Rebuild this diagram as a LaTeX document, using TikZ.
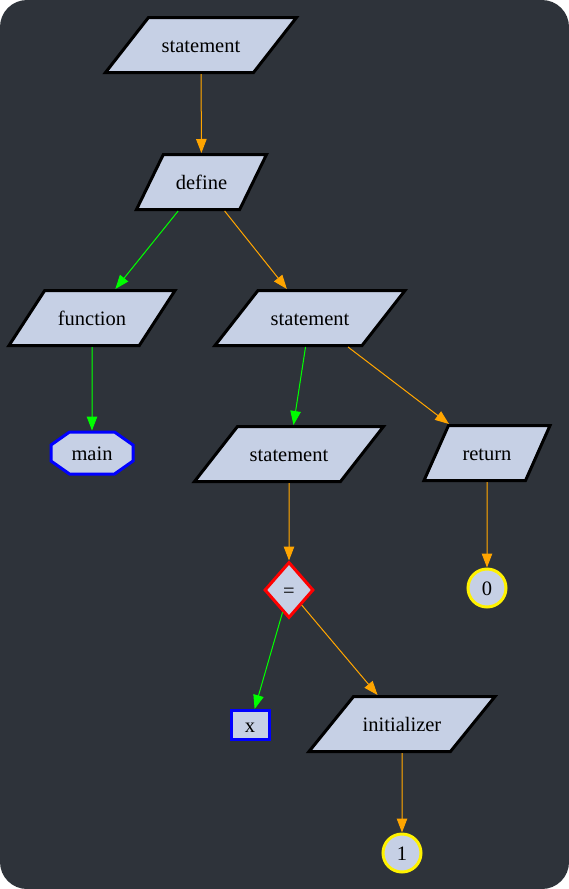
\documentclass[tikz,border=0pt]{standalone}
\usepackage{fontspec}
\setmainfont{Liberation Serif}
\usetikzlibrary{arrows.meta,shapes.geometric}

\definecolor{bgdark}{HTML}{2E333A}
\definecolor{nodefill}{HTML}{C6D0E5}
\definecolor{edgeorange}{HTML}{FFA500}
\definecolor{edgegreen}{HTML}{00FF00}

\begin{document}
\begin{tikzpicture}[x=1pt,y=-1pt,
    base/.style={fill=nodefill,line width=3pt,text=black,inner sep=0pt,
      text height=14pt,text depth=0pt,font=\fontsize{20.5}{24}\selectfont},
    para/.style={base,draw=black,trapezium,trapezium stretches body,inner ysep=20.5pt},
    octline/.style={fill=nodefill,draw=blue,line width=3pt},
    octo/.style={base,fill=none,rectangle,minimum width=82pt,minimum height=42pt},
    idbox/.style={base,draw=blue,rectangle,minimum width=38pt,minimum height=29pt},
    opdiamond/.style={base,draw=red,diamond,minimum width=49pt,minimum height=56pt},
    numcircle/.style={base,draw=yellow,circle,minimum size=38pt},
    orangearr/.style={-{Triangle[length=14pt,width=10.5pt]},line width=1pt,draw=edgeorange,fill=edgeorange},
    greenarr/.style={-{Triangle[length=14pt,width=10.5pt]},line width=1pt,draw=edgegreen,fill=edgegreen}
  ]

  % page with rounded dark panel
  \fill[white] (0,0) rectangle (569,889);
  \fill[bgdark,rounded corners=27pt] (0,0) rectangle (569,889);

  \node[para,trapezium left angle=52,trapezium right angle=128,minimum width=191pt] (stmt) at (201,45) {statement};
  \node[para,trapezium left angle=64,trapezium right angle=116,minimum width=130pt] (define) at (201.5,182) {define};
  \node[para,trapezium left angle=57,trapezium right angle=123,minimum width=166pt] (func) at (92,318) {function};
  \node[para,trapezium left angle=52,trapezium right angle=128,minimum width=190pt] (stmtb) at (310,318) {statement};
  % octagon outline for the function name
  \draw[octline,shift={(92,453)}] (-22.5,-21) -- (22.5,-21) -- (41,-8) -- (41,8) -- (22.5,21)
    -- (-22.5,21) -- (-41,8) -- (-41,-8) -- cycle;
  \node[octo] (main) at (92,453) {main};
  \node[para,trapezium left angle=52,trapezium right angle=128,minimum width=189pt] (stmtc) at (289,454) {statement};
  \node[para,trapezium left angle=66,trapezium right angle=114,minimum width=126pt] (ret) at (487,453) {return};
  \node[numcircle] (zero) at (487,588) {0};
  \node[opdiamond] (assign) at (289,590) {=};
  \node[idbox] (var) at (250,725) {x};
  \node[para,trapezium left angle=51,trapezium right angle=129,minimum width=186pt] (init) at (402,724) {initializer};
  \node[numcircle] (one) at (402,853) {1};

  \draw[orangearr] (stmt) -- (define);
  \draw[greenarr] (define) -- (func);
  \draw[orangearr] (define) -- (stmtb);
  \draw[greenarr] (func) -- (main);
  \draw[greenarr] (stmtb) -- (stmtc);
  \draw[orangearr] (stmtb) -- (ret);
  \draw[orangearr] (stmtc) -- (assign);
  \draw[greenarr] (assign) -- (var);
  \draw[orangearr] (assign) -- (init);
  \draw[orangearr] (ret) -- (zero);
  \draw[orangearr] (init) -- (one);

\end{tikzpicture}
\end{document}
